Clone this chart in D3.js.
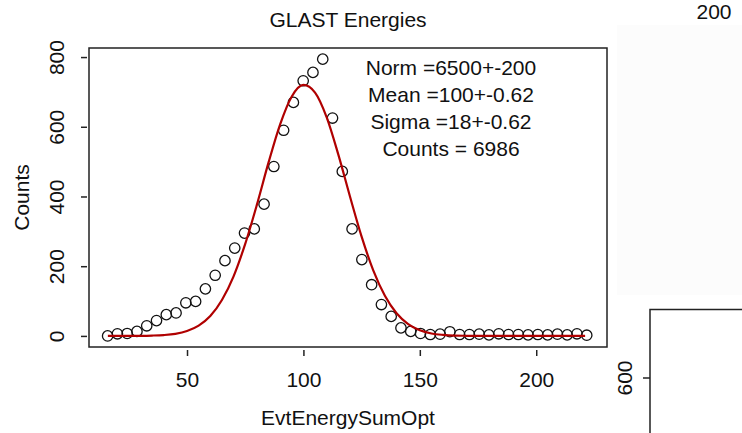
<!DOCTYPE html>
<html>
<head>
<meta charset="utf-8">
<script src="https://cdn.jsdelivr.net/npm/d3@7/dist/d3.min.js"></script>
<style>
  html, body { margin: 0; padding: 0; background: #ffffff; }
  svg { display: block; }
  text { font-family: "Liberation Sans", Arial, sans-serif; fill: #111; }
</style>
</head>
<body>
<svg id="chart" width="742" height="433"></svg>
<script>
// ---- data ----
const binCenters = [15.9, 20.1, 24.3, 28.5, 32.7, 36.9, 41.1, 45.3, 49.5, 53.7,
  57.9, 62.1, 66.3, 70.5, 74.7, 78.9, 83.1, 87.3, 91.5, 95.7,
  99.9, 104.1, 108.3, 112.5, 116.7, 120.9, 125.1, 129.3, 133.5, 137.7,
  141.9, 146.1, 150.3, 154.5, 158.7, 162.9, 167.1, 171.3, 175.5, 179.7,
  183.9, 188.1, 192.3, 196.5, 200.7, 204.9, 209.1, 213.3, 217.5, 221.7];
const binCounts = [0, 6, 7, 13, 29, 44, 61, 66, 95, 99,
  135, 174, 216, 252, 295, 307, 378, 486, 590, 670,
  732, 756, 794, 625, 472, 307, 219, 147, 90, 56,
  23, 13, 7, 4, 5, 12, 4, 4, 5, 3,
  6, 4, 4, 3, 4, 3, 5, 3, 6, 2];
const fitX = [16, 20, 25, 30, 35, 40, 45, 50, 55, 60, 65, 70, 75, 80, 85, 90, 95, 100,
  105, 110, 115, 120, 125, 130, 135, 140, 145, 150, 155, 160, 165, 170, 175,
  180, 185, 190, 195, 200, 205, 210, 215, 220, 221];
const fitY = [0, 0, 0.1, 0.3, 1, 2.5, 6, 14, 29.5, 57, 103, 171, 264, 376, 497, 607, 687, 720,
  698, 627, 520, 400, 285, 188, 115, 65, 34, 16, 7, 3, 1, 0.4, 0.1,
  0, 0, 0, 0, 0, 0, 0, 0, 0, 0];
const xTicks = [50, 100, 150, 200];
const yTicks = [0, 200, 400, 600, 800];
const statLines = ["Norm =6500+-200", "Mean =100+-0.62", "Sigma =18+-0.62", "Counts = 6986"];
const titleText = "GLAST Energies";
const xLabel = "EvtEnergySumOpt";
const yLabel = "Counts";

// ---- layout ----
const svg = d3.select("#chart");
const box = { left: 89, right: 607, top: 48, bottom: 347 };
const FS = 21;

const x = d3.scaleLinear().domain([7.9, 230.4]).range([box.left, box.right]);
const y = d3.scaleLinear().domain([-31.8, 826]).range([box.bottom, box.top]);

// very faint panel shading at right (part of neighbouring figure)
svg.append("rect").attr("x", 617).attr("y", 25).attr("width", 125).attr("height", 270)
  .attr("fill", "#fcfcfc");

// plot box
svg.append("rect")
  .attr("x", box.left).attr("y", box.top)
  .attr("width", box.right - box.left).attr("height", box.bottom - box.top)
  .attr("fill", "#fff").attr("stroke", "#222").attr("stroke-width", 1.5);

// x axis
const gx = svg.append("g").attr("transform", `translate(0,${box.bottom + 3})`)
  .call(d3.axisBottom(x).tickValues(xTicks).tickSizeInner(6).tickSizeOuter(0).tickFormat(d3.format("d")));
gx.select(".domain").remove();
gx.selectAll("line").attr("stroke", "#222").attr("stroke-width", 1.5);
gx.selectAll("text").attr("y", 37).attr("dy", 0).attr("font-size", FS)
  .attr("font-family", "Liberation Sans, Arial, sans-serif").attr("fill", "#111");

// y axis
const gy = svg.append("g").attr("transform", `translate(${box.left - 2},0)`)
  .call(d3.axisLeft(y).tickValues(yTicks).tickSizeInner(6).tickSizeOuter(0).tickFormat(d3.format("d")));
gy.select(".domain").remove();
gy.selectAll("line").attr("stroke", "#222").attr("stroke-width", 1.5);
gy.selectAll("text")
  .attr("transform", "rotate(-90)")
  .attr("x", 0).attr("y", -(box.left - 2 - 63.5)).attr("dy", 0)
  .attr("text-anchor", "middle").attr("font-size", FS)
  .attr("font-family", "Liberation Sans, Arial, sans-serif").attr("fill", "#111");

// data points
const pts = binCenters.map((v, i) => ({ x: v, y: binCounts[i] }));
svg.append("g").selectAll("circle").data(pts).join("circle")
  .attr("cx", d => x(d.x)).attr("cy", d => y(d.y)).attr("r", 5.2)
  .attr("fill", "none").attr("stroke", "#111").attr("stroke-width", 1.3);

// fit curve
const fit = fitX.map((v, i) => ({ x: v, y: fitY[i] }));
svg.append("path").datum(fit)
  .attr("d", d3.line().x(d => x(d.x)).y(d => y(d.y)).curve(d3.curveMonotoneX))
  .attr("fill", "none").attr("stroke", "#b00000").attr("stroke-width", 2.2);

// stats text
svg.append("g").selectAll("text").data(statLines).join("text")
  .attr("x", 451).attr("y", (d, i) => 74.5 + i * 27)
  .attr("text-anchor", "middle").attr("font-size", FS).text(d => d);

// title & labels
svg.append("text").attr("x", (box.left + box.right) / 2).attr("y", 26.5)
  .attr("text-anchor", "middle").attr("font-size", FS).text(titleText);
svg.append("text").attr("x", (box.left + box.right) / 2).attr("y", 425)
  .attr("text-anchor", "middle").attr("font-size", FS).text(xLabel);
svg.append("text").attr("transform", `translate(29,${(box.top + box.bottom) / 2}) rotate(-90)`)
  .attr("text-anchor", "middle").attr("font-size", FS).text(yLabel);

// neighbouring figure fragments at right edge
svg.append("text").attr("x", 714).attr("y", 19).attr("text-anchor", "middle")
  .attr("font-size", FS).text("200");
svg.append("path").attr("d", "M650,433 V309.5 H742")
  .attr("fill", "none").attr("stroke", "#222").attr("stroke-width", 1.5);
svg.append("line").attr("x1", 643).attr("x2", 650).attr("y1", 378).attr("y2", 378)
  .attr("stroke", "#222").attr("stroke-width", 1.5);
svg.append("text").attr("transform", "translate(631.5,378) rotate(-90)")
  .attr("text-anchor", "middle").attr("font-size", FS).text("600");
</script>
</body>
</html>
